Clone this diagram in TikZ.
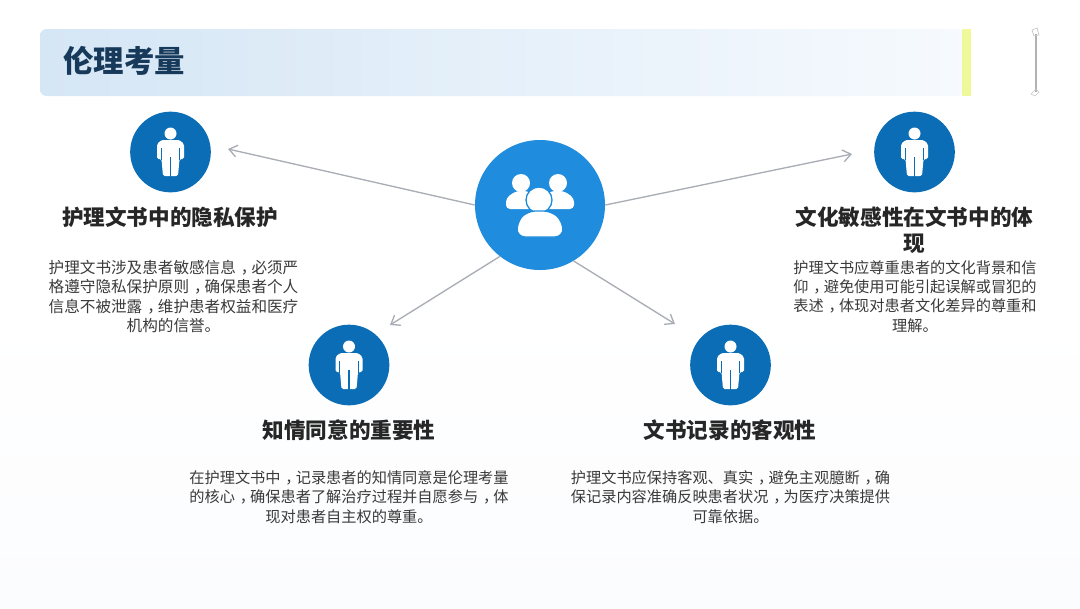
\documentclass[tikz,border=0pt]{standalone}
\usepackage{fontspec}
\setmainfont{Noto Sans CJK SC}
\usetikzlibrary{arrows.meta,shadings}
\definecolor{hubblue}{HTML}{1F8CDD}
\definecolor{iconblue}{HTML}{0B6DB5}
\definecolor{titleink}{HTML}{17395A}
\definecolor{bodyink}{HTML}{3A3A3A}
\definecolor{headink}{HTML}{262626}
\definecolor{linkgray}{HTML}{A9ADB5}
\definecolor{bandL}{HTML}{D5E6F5}
\definecolor{bandR}{HTML}{F6FAFE}
\definecolor{stripe}{HTML}{F0F99A}
\definecolor{wash}{HTML}{FBFCFE}
\newcommand{\zc}{\kern0.32em，\kern-0.32em}
\tikzset{
  x=0.75pt,y=-0.75pt,
  hubdisc/.style={circle,fill=hubblue,minimum size=97.5pt,inner sep=0pt},
  icondisc/.style={circle,fill=iconblue,minimum size=60.5pt,inner sep=0pt},
  heading/.style={font=\fontsize{16.2}{19.5}\selectfont\bfseries,text=headink,align=center,inner sep=0pt},
  bodytext/.style={font=\fontsize{11.4}{14.4}\selectfont,text=bodyink,align=center,inner sep=0pt},
  link/.style={draw=linkgray,line width=1pt,-{Straight Barb[length=6pt,width=9pt]}},
  person/.pic={
    \fill[white] (0,-18.5) circle (6);
    \fill[white,rounded corners=1.2pt] (-9,-12) -- (9,-12) -- (13.5,-8) -- (13.5,7) -- (9,7) -- (7.5,24) -- (-7.5,24) -- (-9,7) -- (-13.5,7) -- (-13.5,-8) -- cycle;
    \draw[iconblue,line width=1pt] (9.2,-4) -- (9.2,7.5) (-9.2,-4) -- (-9.2,7.5) (0,5) -- (0,24.5);
  }
}
\begin{document}
\begin{tikzpicture}
\useasboundingbox (0,0) rectangle (1080,608);
\shade[top color=white,bottom color=wash,middle color=white] (0,0) rectangle (1080,608);
% title band
\shade[left color=bandL,right color=bandR,rounded corners=5pt] (40,29) rectangle (964,96);
\fill[stripe] (962,29) rectangle (971,96);
\node[anchor=west,font=\fontsize{22.8}{28}\selectfont\bfseries,text=titleink,inner sep=0pt] (title) at (63,61) {伦理考量};
% corner ornament
\draw[gray!60,line width=0.8pt] (1036,34) -- (1036,92);
\draw[gray!45,line width=0.5pt] (1032,30) -- (1037,28) -- (1039,35) -- (1034,36) -- cycle;
\draw[gray!45,line width=0.5pt] (1031,94) -- (1036,89) -- (1039,92) -- (1035,96) -- cycle;
% hub and satellites
\node[hubdisc] (hub) at (540,205) {};
\node[icondisc] (a) at (170.5,152) {};
\node[icondisc] (b) at (914.5,152) {};
\node[icondisc] (c) at (349,365) {};
\node[icondisc] (d) at (730.5,365) {};
\coordinate (ea) at (228,149);
\coordinate (eb) at (852,154);
\coordinate (ec) at (390,325);
\coordinate (ed) at (675,324);
\draw[link] (hub.west) -- (ea);
\draw[link] (hub.east) -- (eb);
\draw[link] (hub.232) -- (ec);
\draw[link] (hub.301) -- (ed);
\pic at (a) {person};
\pic at (b) {person};
\pic at (c) {person};
\pic at (d) {person};
% group icon
\fill[white] (521,183) circle (9);
\fill[white] (558,183) circle (9);
\fill[white,rounded corners=3pt] (506,209) -- (506,198) -- (516,191) -- (528,191) -- (538,198) -- (538,209) -- cycle;
\fill[white,rounded corners=3pt] (541,209) -- (541,198) -- (551,191) -- (564,191) -- (574,198) -- (574,209) -- cycle;
\draw[hubblue,line width=1pt,fill=white] (539,200) circle (13);
\draw[hubblue,line width=1pt,fill=white,rounded corners=6pt] (517,237) -- (517,222) -- (527,211) -- (552,211) -- (563,222) -- (563,237) -- cycle;
% labels
\node[heading] (ha) at (170,217) {护理文书中的隐私保护};
\node[bodytext,font=\fontsize{11.7}{14.4}\selectfont] (ta) at (173.5,296.5) {护理文书涉及患者敏感信息\zc 必须严\\格遵守隐私保护原则\zc 确保患者个人\\信息不被泄露\zc 维护患者权益和医疗\\机构的信誉。};
\node[heading] (hb) at (914.5,230) {文化敏感性在文书中的体\\现};
\node[bodytext] (tb) at (915,296.5) {护理文书应尊重患者的文化背景和信\\仰\zc 避免使用可能引起误解或冒犯的\\表述\zc 体现对患者文化差异的尊重和\\理解。};
\node[heading] (hc) at (349,430) {知情同意的重要性};
\node[bodytext] (tc) at (349,497) {在护理文书中\zc 记录患者的知情同意是伦理考量\\的核心\zc 确保患者了解治疗过程并自愿参与\zc 体\\现对患者自主权的尊重。};
\node[heading] (hd) at (730,430) {文书记录的客观性};
\node[bodytext] (td) at (730.5,497) {护理文书应保持客观、真实\zc 避免主观臆断\zc 确\\保记录内容准确反映患者状况\zc 为医疗决策提供\\可靠依据。};
\end{tikzpicture}
\end{document}
